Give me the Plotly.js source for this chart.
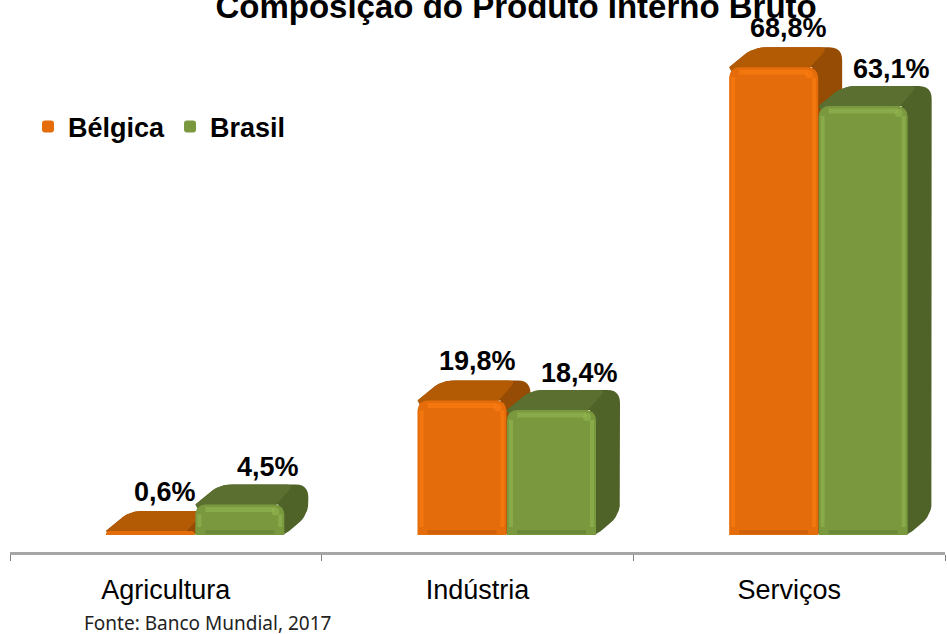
<!DOCTYPE html>
<html>
<head>
<meta charset="utf-8">
<script src="https://cdn.plot.ly/plotly-3.0.1.min.js"></script>
<style>html,body{margin:0;padding:0;background:#fff;overflow:hidden}</style>
</head>
<body>
<div id="chart" style="width:947px;height:634px"></div>
<script>
const categories = ['Agricultura', 'Indústria', 'Serviços'];
const belgica = [0.6, 19.8, 68.8];
const brasil = [4.5, 18.4, 63.1];
const belgicaLabels = ['0,6%', '19,8%', '68,8%'];
const brasilLabels = ['4,5%', '18,4%', '63,1%'];
const boundaries = [-0.5, 0.5, 1.5, 2.5];
const positions = [0, 1, 2];

const W = 947, H = 634, L = 10, R = 2, T = 0, B = 82;
const xRange = [-0.5, 2.5], yRange = [-2.5, 78.7];
const ux = (xRange[1] - xRange[0]) / (W - L - R);
const uy = (yRange[1] - yRange[0]) / (H - T - B);
const FONT = '"Liberation Sans", Arial, sans-serif';

// Turns a px-measured corner list (relative to a data anchor) into a rounded outline
function rounded(ax, ay, pts, radii) {
  const xs = [], ys = [];
  pts.forEach((p, i) => {
    const r = radii[i];
    const a = pts[(i + pts.length - 1) % pts.length], b = pts[(i + 1) % pts.length];
    if (!r) { xs.push(ax + p[0] * ux); ys.push(ay + p[1] * uy); return; }
    const da = Math.hypot(a[0] - p[0], a[1] - p[1]), db = Math.hypot(b[0] - p[0], b[1] - p[1]);
    const ra = Math.min(r, da / 2), rb = Math.min(r, db / 2);
    const s = [p[0] + (a[0] - p[0]) * ra / da, p[1] + (a[1] - p[1]) * ra / da];
    const e = [p[0] + (b[0] - p[0]) * rb / db, p[1] + (b[1] - p[1]) * rb / db];
    for (let k = 0; k <= 6; k++) {
      const t = k / 6, m = 1 - t;
      xs.push(ax + (m * m * s[0] + 2 * m * t * p[0] + t * t * e[0]) * ux);
      ys.push(ay + (m * m * s[1] + 2 * m * t * p[1] + t * t * e[1]) * uy);
    }
  });
  xs.push(xs[0]); ys.push(ys[0]);
  return { xs, ys };
}

const BAR_W = 89, DX = 24, DY = 20, RAD = 11;
const OFF_B = -60 * ux, OFF_G = 29.5 * ux, WID = BAR_W * ux;

function depth(values, off, sideColor, topColor, xa, ya) {
  const out = [];
  values.forEach((v, i) => {
    const left = positions[i] + off, h = v / uy;
    const side = rounded(left, 0, [[0, h], [DX, h + DY], [BAR_W + DX, h + DY], [BAR_W + DX, DY], [BAR_W, 0], [BAR_W - 6, 0], [BAR_W - 6, h]],
      [0, RAD + 2, RAD + 2, RAD + 2, 6, 0, 0]);
    const top = rounded(left, 0, [[0, h], [DX, h + DY], [BAR_W + DX - 14, h + DY], [BAR_W - 8, h], [BAR_W - 8, Math.max(h - 8, 0)], [4, Math.max(h - 8, 0)]],
      [0, RAD + 2, 8, 0, 0, 0]);
    [[side, sideColor], [top, topColor]].forEach(([o, c]) => out.push({
      type: 'scatter', mode: 'lines', x: o.xs, y: o.ys, fill: 'toself', fillcolor: c,
      line: { width: 0, color: c }, hoverinfo: 'skip', showlegend: false, xaxis: xa, yaxis: ya
    }));
  });
  return out;
}

function gloss(values, off, light, dark, xa, ya) {
  const out = [];
  const seg = (xs, ys, c, w) => out.push({
    type: 'scatter', mode: 'lines', x: xs, y: ys, line: { color: c, width: w, shape: 'linear' },
    hoverinfo: 'skip', showlegend: false, xaxis: xa, yaxis: ya
  });
  values.forEach((v, i) => {
    const h = v / uy;
    if (h < 20) return;
    const l = positions[i] + off, X = px => l + px * ux, Y = px => px * uy;
    seg([X(10), X(BAR_W - 10)], [Y(h - 5), Y(h - 5)], light, 5);
    seg([X(4), X(4)], [Y(8), Y(h - 10)], light, 4);
    seg([X(BAR_W - 4), X(BAR_W - 4)], [Y(8), Y(h - 10)], light, 4);
    seg([X(10), X(BAR_W - 10)], [Y(3), Y(3)], dark, 4);
    out.push({
      type: 'scatter', mode: 'markers', x: [X(BAR_W - 9)], y: [Y(h - 7)],
      marker: { size: 8, color: light, line: { width: 0 } },
      hoverinfo: 'skip', showlegend: false, xaxis: xa, yaxis: ya
    });
  });
  return out;
}

function bar(name, values, off, color, xa, ya) {
  return {
    type: 'bar', name, x: positions, y: values, offset: off, width: WID, xaxis: xa, yaxis: ya,
    marker: { color, cornerradius: 10, line: { width: 0 } }, hoverinfo: 'name+y'
  };
}

const traces = [
  ...depth(belgica, OFF_B, '#974C06', '#B35A05', 'x', 'y'),
  bar('Bélgica', belgica, OFF_B, '#E46C0A', 'x2', 'y2'),
  ...gloss(belgica, OFF_B, 'rgba(255,128,20,0.55)', 'rgba(170,80,5,0.35)', 'x2', 'y2'),
  ...depth(brasil, OFF_G, '#4F6228', '#5B7030', 'x2', 'y2'),
  bar('Brasil', brasil, OFF_G, '#7A983E', 'x3', 'y3'),
  ...gloss(brasil, OFF_G, 'rgba(150,185,80,0.55)', 'rgba(85,110,45,0.35)', 'x3', 'y3')
];

const labelFont = { family: FONT, size: 27, color: '#000' };
const annotations = [];
positions.forEach((p, i) => {
  annotations.push({ xref: 'x3', yref: 'y3', x: p + OFF_B + WID / 2, y: belgica[i], text: '<b>' + belgicaLabels[i] + '</b>',
    showarrow: false, xshift: 15, yshift: 39, font: labelFont, xanchor: 'center', yanchor: 'middle' });
  annotations.push({ xref: 'x3', yref: 'y3', x: p + OFF_G + WID / 2, y: brasil[i], text: '<b>' + brasilLabels[i] + '</b>',
    showarrow: false, xshift: 28, yshift: 37, font: labelFont, xanchor: 'center', yanchor: 'middle' });
});
annotations.push({ xref: 'paper', yref: 'paper', x: (82 - L) / (W - L - R), y: -(623 - (H - B)) / (H - B),
  text: 'Fonte: Banco Mundial, 2017', showarrow: false, xanchor: 'left', yanchor: 'middle',
  font: { family: '"Noto Sans", sans-serif', size: 19, color: '#222' } });

const hidden = over => ({ overlaying: over, range: over === 'x' ? xRange : yRange, visible: false, fixedrange: true });

const layout = {
  width: W, height: H, autosize: false, barmode: 'overlay',
  margin: { l: L, r: R, t: T, b: B, pad: 0 },
  paper_bgcolor: '#fff', plot_bgcolor: '#fff',
  title: { text: '<b>Composição do Produto Interno Bruto</b>', x: 0.545, xanchor: 'center', y: 0.99, yanchor: 'middle', yref: 'container',
    font: { family: FONT, size: 33, color: '#000' } },
  xaxis: {
    type: 'linear', range: xRange, fixedrange: true, showgrid: false, zeroline: false,
    showline: true, linecolor: '#A6A6A6', linewidth: 3,
    tickmode: 'array', tickvals: positions, ticktext: categories, ticks: '',
    ticklabelstandoff: 12,
    tickfont: { family: FONT, size: 27, color: '#000' },
    minor: { tickmode: 'array', tickvals: boundaries, ticks: 'outside', ticklen: 6, tickwidth: 1, tickcolor: '#808080', showgrid: false }
  },
  yaxis: { type: 'linear', range: yRange, visible: false, fixedrange: true },
  xaxis2: hidden('x'), yaxis2: hidden('y'), xaxis3: hidden('x'), yaxis3: hidden('y'),
  showlegend: true,
  legend: { orientation: 'h', x: 18 / (W - L - R), xanchor: 'left', y: (H - B - 127) / (H - B), yanchor: 'middle',
    bgcolor: 'rgba(0,0,0,0)', font: { family: FONT, size: 27, color: '#000', weight: 700 }, itemclick: false, itemdoubleclick: false },
  annotations
};

Plotly.newPlot('chart', traces, layout, { displayModeBar: false, staticPlot: true });
</script>
</body>
</html>
